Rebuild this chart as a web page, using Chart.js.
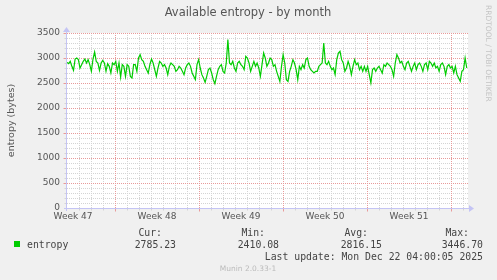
<!DOCTYPE html>
<html>
<head>
<meta charset="utf-8">
<script src="https://cdn.jsdelivr.net/npm/chart.js@4/dist/chart.umd.min.js"></script>
<style>
  html, body { margin: 0; padding: 0; background: #f0f0f0; }
  canvas { display: block; }
</style>
</head>
<body>
<canvas id="chart" width="497" height="280"></canvas>
<script>
const chartTitle = 'Available entropy - by month';
const yAxisTitle = 'entropy (bytes)';
const seriesName = 'entropy';

// x axis is in hours from the left edge of the graph
const xMaxHours = 802;
const sampleStepHours = 3.25;
const weekLabels = ['Week 47', 'Week 48', 'Week 49', 'Week 50', 'Week 51'];
const weekLabelHours = [12, 180, 348, 516, 684];
const weekStartHours = [96, 264, 432, 600, 768];

const yTickLabels = [0, 500, 1000, 1500, 2000, 2500, 3000, 3500];

// available entropy samples
const entropy = [
  2913, 2887, 2933, 2833, 2753, 2980, 3000, 2967, 2800, 2867,
  2933, 2980, 2900, 2967, 2867, 2733, 2980, 3120, 2933, 2900,
  2753, 2900, 2953, 2900, 2733, 2887, 2833, 2700, 2900, 2867,
  2933, 2733, 2900, 2620, 2867, 2833, 2633, 2867, 2833, 2633,
  2600, 2867, 2867, 2733, 3000, 3067, 2967, 2933, 2833, 2767,
  2700, 2867, 2980, 2900, 2767, 2633, 2800, 2933, 2900, 2833,
  2867, 2800, 2667, 2833, 2900, 2867, 2833, 2733, 2767, 2833,
  2800, 2733, 2667, 2800, 2867, 2900, 2833, 2700, 2633, 2567,
  2867, 2967, 2800, 2667, 2600, 2513, 2633, 2767, 2800, 2700,
  2567, 2487, 2633, 2767, 2833, 2867, 2733, 2700, 2900, 3367,
  2900, 2867, 2933, 2800, 2733, 2900, 2933, 2867, 2833, 2767,
  3033, 3000, 2900, 2733, 2833, 2933, 2833, 2900, 2800, 2633,
  2867, 3100, 3000, 2833, 2900, 3000, 2967, 2833, 2867, 2733,
  2633, 2533, 2833, 3067, 2900, 2567, 2533, 2733, 2833, 2967,
  2900, 2767, 2567, 2833, 2767, 2867, 2800, 2967, 3000, 2833,
  2767, 2733, 2700, 2733, 2733, 2833, 2867, 2900, 3300, 2900,
  2867, 2933, 2833, 2767, 2800, 2667, 2967, 3100, 3133, 2967,
  2900, 2733, 2800, 2933, 2833, 2667, 2833, 2967, 2867, 2900,
  2767, 2833, 2733, 2833, 2733, 2833, 2667, 2500, 2767, 2800,
  2733, 2800, 2833, 2767, 2700, 2867, 2833, 2900, 2867, 2833,
  2767, 2633, 2900, 3067, 3000, 2900, 2933, 2833, 2767, 2900,
  2933, 2833, 2733, 2833, 2900, 2767, 2867, 2900, 2833, 2733,
  2867, 2900, 2767, 2933, 2900, 2833, 2900, 2800, 2833, 2733,
  2867, 2900, 2833, 2667, 2833, 2867, 2800, 2833, 2700, 2833,
  2667, 2600, 2533, 2733, 2767, 3000, 2800
];

const legendHeads = ['Cur:', 'Min:', 'Avg:', 'Max:'];
const legendValues = ['2785.23', '2410.08', '2816.15', '3446.70'];
const lastUpdate = 'Last update: Mon Dec 22 04:00:05 2025';
const footer = 'Munin 2.0.33-1';
const watermark = 'RRDTOOL / TOBI OETIKER';

const lineColor = '#00cc00';
const textColor = '#555555';
const axisColor = '#c4c4f4';
const minorGrid = '#d4d4d4';
const majorGrid = '#e89a9a';

const points = entropy.map((v, i) => ({ x: i * sampleStepHours, y: v }));

const dayHours = [];
for (let h = 24; h < xMaxHours; h += 24) dayHours.push(h);
const yMinor = [];
for (let v = 100; v <= 3500; v += 100) yMinor.push(v);

const rrdPlugin = {
  id: 'rrd',
  beforeDraw(chart) {
    const { ctx, chartArea: a } = chart;
    ctx.save();
    ctx.fillStyle = '#f0f0f0';
    ctx.fillRect(0, 0, chart.width, chart.height);
    ctx.fillStyle = '#ffffff';
    ctx.fillRect(a.left, a.top, a.right - a.left, a.bottom - a.top);
    ctx.restore();
  },
  beforeDatasetsDraw(chart) {
    const { ctx, chartArea: a, scales: { x, y } } = chart;
    const left = Math.round(a.left), right = Math.round(a.right);
    const top = Math.round(a.top), bottom = Math.round(a.bottom);
    ctx.save();
    // dotted grid, one pixel on, one pixel off
    const vline = (h, color) => {
      const px = Math.round(x.getPixelForValue(h));
      ctx.fillStyle = color;
      for (let py = top; py < bottom; py += 2) ctx.fillRect(px, py, 1, 1);
    };
    const hline = (v, color) => {
      const py = Math.round(y.getPixelForValue(v));
      ctx.fillStyle = color;
      for (let px = left; px < right; px += 2) ctx.fillRect(px, py, 1, 1);
    };
    dayHours.filter(h => !weekStartHours.includes(h)).forEach(h => vline(h, minorGrid));
    yMinor.filter(v => v % 500 !== 0).forEach(v => hline(v, minorGrid));
    weekStartHours.forEach(h => vline(h, majorGrid));
    yMinor.filter(v => v % 500 === 0).forEach(v => hline(v, majorGrid));
    ctx.restore();
  },
  afterDraw(chart) {
    const { ctx, chartArea: a, scales: { x, y } } = chart;
    ctx.save();
    ctx.lineWidth = 1;

    // tick marks
    const by = Math.round(a.bottom) + 0.5;
    const lx = Math.round(a.left) - 0.5;
    dayHours.forEach(h => {
      const px = Math.round(x.getPixelForValue(h)) + 0.5;
      const major = weekStartHours.includes(h);
      ctx.strokeStyle = major ? majorGrid : minorGrid;
      ctx.beginPath(); ctx.moveTo(px, by); ctx.lineTo(px, by + (major ? 3 : 2)); ctx.stroke();
    });
    yMinor.forEach(v => {
      const py = Math.round(y.getPixelForValue(v)) + 0.5;
      const major = v % 500 === 0;
      ctx.strokeStyle = major ? majorGrid : minorGrid;
      ctx.beginPath(); ctx.moveTo(lx - (major ? 3 : 2), py); ctx.lineTo(lx, py); ctx.stroke();
    });

    // axes with arrows
    ctx.strokeStyle = axisColor;
    ctx.fillStyle = axisColor;
    ctx.beginPath(); ctx.moveTo(a.left - 3, by); ctx.lineTo(a.right + 2, by); ctx.stroke();
    ctx.beginPath(); ctx.moveTo(a.right + 1, by - 3.5); ctx.lineTo(a.right + 6, by); ctx.lineTo(a.right + 1, by + 3.5); ctx.closePath(); ctx.fill();
    ctx.beginPath(); ctx.moveTo(lx, a.bottom + 3); ctx.lineTo(lx, a.top - 2); ctx.stroke();
    ctx.beginPath(); ctx.moveTo(lx - 3.5, a.top - 1); ctx.lineTo(lx, a.top - 6); ctx.lineTo(lx + 3.5, a.top - 1); ctx.closePath(); ctx.fill();

    // title
    ctx.fillStyle = textColor;
    ctx.font = '11.5px "DejaVu Sans"';
    ctx.textAlign = 'center';
    ctx.textBaseline = 'middle';
    ctx.fillText(chartTitle, 248, 13.5);

    // watermark
    ctx.save();
    ctx.translate(487.5, 5);
    ctx.rotate(Math.PI / 2);
    ctx.fillStyle = '#c4c4c4';
    ctx.font = '7.5px "DejaVu Sans"';
    ctx.textAlign = 'left';
    ctx.textBaseline = 'middle';
    ctx.fillText(watermark, 0, 0);
    ctx.restore();

    // legend
    ctx.fillStyle = lineColor;
    ctx.fillRect(14, 241, 6, 6);
    ctx.fillStyle = '#444444';
    ctx.font = '9.8px "DejaVu Sans Mono"';
    ctx.textBaseline = 'middle';
    ctx.textAlign = 'left';
    ctx.fillText(seriesName, 27, 245.5);
    ctx.textAlign = 'right';
    const headRight = [162, 265, 368, 469];
    const valueRight = [176, 279, 382, 483];
    legendHeads.forEach((t, i) => ctx.fillText(t, headRight[i], 233.5));
    legendValues.forEach((t, i) => ctx.fillText(t, valueRight[i], 245.5));
    ctx.fillText(lastUpdate, 483, 257.5);

    ctx.fillStyle = '#bbbbbb';
    ctx.font = '7.5px "DejaVu Sans"';
    ctx.textAlign = 'center';
    ctx.fillText(footer, 248, 269.5);
    ctx.restore();
  }
};

new Chart(document.getElementById('chart'), {
  type: 'line',
  data: {
    datasets: [{
      label: seriesName,
      data: points,
      borderColor: lineColor,
      borderWidth: 1.2,
      pointRadius: 0,
      tension: 0,
      fill: false
    }]
  },
  options: {
    responsive: false,
    animation: false,
    devicePixelRatio: 1,
    layout: { padding: { left: 0, right: 29, top: 33, bottom: 52 } },
    plugins: {
      legend: { display: false },
      title: { display: false },
      tooltip: { enabled: false }
    },
    scales: {
      x: {
        type: 'linear',
        min: 0,
        max: xMaxHours,
        grid: { display: false, drawTicks: false },
        border: { display: false },
        afterBuildTicks: s => { s.ticks = weekLabelHours.map(v => ({ value: v })); },
        afterFit: s => { s.height = 20; },
        ticks: {
          autoSkip: false,
          maxRotation: 0,
          padding: 3,
          color: textColor,
          font: { family: 'DejaVu Sans', size: 9 },
          callback: (v, i) => weekLabels[i]
        }
      },
      y: {
        min: 0,
        max: 3500,
        grid: { display: false, drawTicks: false },
        border: { display: false },
        afterBuildTicks: s => { s.ticks = yTickLabels.map(v => ({ value: v })); },
        afterFit: s => { s.width = 67; },
        ticks: {
          autoSkip: false,
          padding: 7,
          color: textColor,
          font: { family: 'DejaVu Sans', size: 9 },
          callback: v => String(v)
        },
        title: {
          display: true,
          text: yAxisTitle,
          color: textColor,
          font: { family: 'DejaVu Sans', size: 9.5 },
          padding: { top: 6, bottom: 0 }
        }
      }
    }
  },
  plugins: [rrdPlugin]
});
</script>
</body>
</html>
